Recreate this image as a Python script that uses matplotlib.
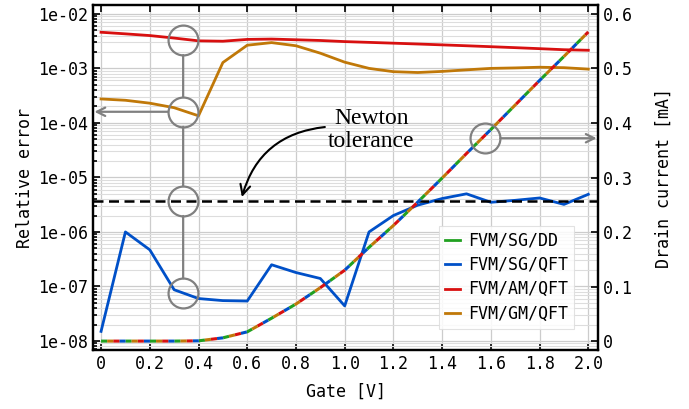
import numpy as np
import matplotlib
matplotlib.use('Agg')
import matplotlib.pyplot as plt
from matplotlib.ticker import FixedLocator, LogLocator, NullFormatter

# Data
gate = [0.0, 0.1, 0.2, 0.3, 0.4, 0.5, 0.6, 0.7, 0.8, 0.9, 1.0,
        1.1, 1.2, 1.3, 1.4, 1.5, 1.6, 1.7, 1.8, 1.9, 2.0]
err_sg_qft = [1.5e-8, 1.0e-6, 4.7e-7, 8.7e-8, 6.0e-8, 5.5e-8, 5.4e-8, 2.5e-7, 1.8e-7, 1.4e-7, 4.4e-8,
              1.0e-6, 2.0e-6, 3.1e-6, 4.1e-6, 5.0e-6, 3.5e-6, 3.8e-6, 4.2e-6, 3.2e-6, 4.9e-6]
err_am_qft = [4.6e-3, 4.3e-3, 4.0e-3, 3.6e-3, 3.2e-3, 3.15e-3, 3.4e-3, 3.45e-3, 3.35e-3, 3.25e-3, 3.1e-3,
              3.0e-3, 2.9e-3, 2.8e-3, 2.7e-3, 2.6e-3, 2.5e-3, 2.4e-3, 2.3e-3, 2.2e-3, 2.15e-3]
err_gm_qft = [2.75e-4, 2.6e-4, 2.3e-4, 1.9e-4, 1.35e-4, 1.28e-3, 2.66e-3, 2.97e-3, 2.6e-3, 1.9e-3, 1.3e-3,
              1.0e-3, 8.7e-4, 8.4e-4, 8.8e-4, 9.4e-4, 1.0e-3, 1.02e-3, 1.05e-3, 1.03e-3, 9.7e-4]
current = [0.0, 0.0, 0.0, 0.0, 0.0005, 0.006, 0.017, 0.042, 0.068, 0.098, 0.13,
           0.172, 0.212, 0.255, 0.299, 0.344, 0.388, 0.433, 0.478, 0.522, 0.567]
newton_tol = 3.7e-6

labels = ['FVM/SG/DD', 'FVM/SG/QFT', 'FVM/AM/QFT', 'FVM/GM/QFT']
colors = ['#20a020', '#0050c8', '#d81010', '#c07808']

x_ticks = [0, 0.2, 0.4, 0.6, 0.8, 1.0, 1.2, 1.4, 1.6, 1.8, 2.0]
x_ticklabels = ['0', '0.2', '0.4', '0.6', '0.8', '1.0', '1.2', '1.4', '1.6', '1.8', '2.0']
y_ticks = [1e-8, 1e-7, 1e-6, 1e-5, 1e-4, 1e-3, 1e-2]
y_ticklabels = ['1e-08', '1e-07', '1e-06', '1e-05', '1e-04', '1e-03', '1e-02']
y2_ticks = [0, 0.1, 0.2, 0.3, 0.4, 0.5, 0.6]
y2_ticklabels = ['0', '0.1', '0.2', '0.3', '0.4', '0.5', '0.6']

plt.rcParams['font.family'] = 'DejaVu Sans Mono'
plt.rcParams['font.size'] = 12

fig = plt.figure(figsize=(6.89, 4.09), dpi=100)
ax = fig.add_axes([0.135, 0.144, 0.733, 0.844])
ax2 = ax.twinx()

ax.set_yscale('log')
ax.set_xlim(-0.033, 2.04)
ax.set_ylim(6.8e-9, 1.46e-2)
ax2.set_ylim(-0.0165, 0.6165)

ax.grid(True, which='major', color='#cccccc', lw=0.9)
ax.grid(True, which='minor', axis='y', color='#dddddd', lw=0.8)
ax.set_axisbelow(True)

ax.set_xticks(x_ticks)
ax.set_xticklabels(x_ticklabels)
ax.yaxis.set_major_locator(FixedLocator(y_ticks))
ax.set_yticklabels(y_ticklabels)
ax.yaxis.set_minor_locator(LogLocator(base=10, subs=np.arange(2, 10)))
ax.yaxis.set_minor_formatter(NullFormatter())
ax2.set_yticks(y2_ticks)
ax2.set_yticklabels(y2_ticklabels)

ax.tick_params(which='both', direction='in', top=True, right=False, width=1.2)
ax.tick_params(which='major', length=5)
ax.tick_params(which='minor', length=3)
ax2.tick_params(direction='in', length=5, width=1.2)
for a in (ax, ax2):
    for s in a.spines.values():
        s.set_linewidth(1.6)

# relative errors
ax.axhline(newton_tol, color='black', lw=1.8, ls=(0, (4, 2.2)), zorder=3)
h_dd, = ax.plot([], [], color=colors[0], lw=2)
h_sg, = ax.plot(gate, err_sg_qft, color=colors[1], lw=2)
h_am, = ax.plot(gate, err_am_qft, color=colors[2], lw=2)
h_gm, = ax.plot(gate, err_gm_qft, color=colors[3], lw=2)

# drain current, all four overlap -> interleaved dashes
for i, c in enumerate(colors):
    ax2.plot(gate, current, color=c, lw=2.2, ls=(i * 2, (2, 6)))

# annotation circles
gray = '#808080'
cx = 0.337
circ_y = [3.3e-3, 1.6e-4, newton_tol, 7.5e-8]
ax.plot([cx] * len(circ_y), circ_y, 'o', ms=21.5, mfc='none', mec=gray, mew=1.6, zorder=5)
for y1, y2 in zip(circ_y[:-1], circ_y[1:]):
    ax.annotate('', xy=(cx, y2), xytext=(cx, y1),
                arrowprops=dict(arrowstyle='-', color=gray, lw=1.6, shrinkA=10.8, shrinkB=10.8))
ax.annotate('', xy=(0, 1.6e-4), xycoords=('axes fraction', 'data'),
            xytext=(cx, 1.6e-4), textcoords='data',
            arrowprops=dict(arrowstyle='->', color=gray, lw=1.6, shrinkA=10.8, shrinkB=1,
                            mutation_scale=15))

rx, ry = 1.577, 0.372
ax2.plot([rx], [ry], 'o', ms=21.5, mfc='none', mec=gray, mew=1.6, zorder=5)
ax2.annotate('', xy=(1, ry), xycoords=('axes fraction', 'data'),
             xytext=(rx, ry), textcoords='data',
             arrowprops=dict(arrowstyle='->', color=gray, lw=1.6, shrinkA=10.8, shrinkB=1,
                             mutation_scale=15))

# Newton tolerance label
ax.text(1.11, 7.5e-5, 'Newton\ntolerance', family='Liberation Serif', fontsize=17,
        ha='center', va='center', linespacing=1.12)
ax.annotate('', xy=(0.575, 3.9e-6), xytext=(0.93, 8.5e-5),
            arrowprops=dict(arrowstyle='->', color='black', lw=1.5, mutation_scale=18,
                            connectionstyle='arc3,rad=0.35'))

ax.set_xlabel('Gate [V]', labelpad=7)
ax.set_ylabel('Relative error', labelpad=3)
ax2.set_ylabel('Drain current [mA]', labelpad=16)

leg = ax2.legend([h_dd, h_sg, h_am, h_gm], labels, loc='lower right',
                 bbox_to_anchor=(0.963, 0.048), fancybox=False, framealpha=0.85,
                 edgecolor='#dddddd', handlelength=0.9, fontsize=12,
                 handletextpad=0.5, borderpad=0.35, labelspacing=0.38,
                 borderaxespad=0.3)
leg.get_frame().set_linewidth(0.8)

fig.savefig('out.png', dpi=100)
